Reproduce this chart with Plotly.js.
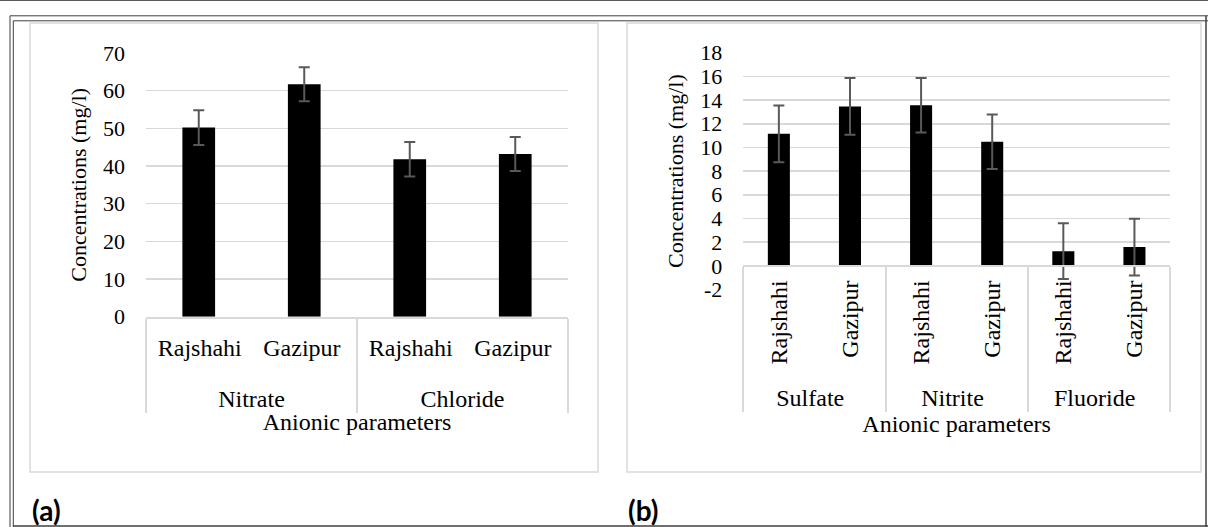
<!DOCTYPE html>
<html>
<head>
<meta charset="utf-8">
<script src="https://cdn.plot.ly/plotly-3.0.1.min.js"></script>
<style>html,body{margin:0;padding:0;background:#fff;}#chart{width:1208px;height:527px;}</style>
</head>
<body>
<div id="chart"></div>
<script>
// ---- data ----
const groupsA = ['Nitrate', 'Nitrate', 'Chloride', 'Chloride'];
const sitesA = ['Rajshahi', 'Gazipur', 'Rajshahi', 'Gazipur'];
const valuesA = [50.2, 61.7, 41.8, 43.2];
const errorsA = [4.6, 4.5, 4.6, 4.5];

const groupsB = ['Sulfate', 'Sulfate', 'Nitrite', 'Nitrite', 'Fluoride', 'Fluoride'];
const sitesB = ['Rajshahi', 'Gazipur', 'Rajshahi', 'Gazipur', 'Rajshahi', 'Gazipur'];
const valuesB = [11.15, 13.46, 13.57, 10.47, 1.24, 1.58];
const errorsB = [2.4, 2.4, 2.3, 2.3, 2.35, 2.4];

const yTickValsA = [0, 10, 20, 30, 40, 50, 60, 70];
const yTickTextA = ['0', '10', '20', '30', '40', '50', '60', '70'];
const yTickValsB = [-2, 0, 2, 4, 6, 8, 10, 12, 14, 16, 18];
const yTickTextB = ['-2', '0', '2', '4', '6', '8', '10', '12', '14', '16', '18'];

const xTitle = 'Anionic parameters';
const yTitle = 'Concentrations (mg/l)';
const panelLabels = ['(a)', '(b)'];

// ---- layout helpers ----
const W = 1208, H = 527;
const fx = p => p / W;
const fy = p => 1 - p / H;
const SERIF = 'Liberation Serif, Times New Roman, serif';
const GRID = '#d9d9d9';

const rangeA = [0, 70];
const rangeB = [-2, 18];
const domYA = [fy(316.7), fy(53)];
const domYB = [fy(289.5), fy(52.7)];
const zeroPosB = domYB[0] + (0 - rangeB[0]) / (rangeB[1] - rangeB[0]) * (domYB[1] - domYB[0]);

const errStyle = (arr) => ({type: 'data', array: arr, visible: true, color: '#595959', thickness: 2, width: 5.5});

const traces = [
  {
    type: 'bar', x: [groupsA, sitesA], y: valuesA, xaxis: 'x', yaxis: 'y',
    marker: {color: '#000000', line: {width: 0}},
    error_y: errStyle(errorsA), hoverinfo: 'skip', showlegend: false
  },
  {
    type: 'bar', x: [groupsB, sitesB], y: valuesB, xaxis: 'x2', yaxis: 'y2',
    marker: {color: '#000000', line: {width: 0}},
    error_y: errStyle(errorsB), hoverinfo: 'skip', showlegend: false
  }
];

const xCommon = {
  type: 'multicategory',
  showline: true, linecolor: GRID, linewidth: 2,
  showgrid: false, zeroline: false, ticks: '',
  showdividers: true, dividercolor: GRID, dividerwidth: 2,
  tickfont: {family: SERIF, size: 24, color: '#000'},
  title: {text: xTitle, font: {family: SERIF, size: 24, color: '#000'}, standoff: 4},
  fixedrange: true
};
const yCommon = {
  showgrid: true, gridcolor: GRID, gridwidth: 1.6,
  zeroline: false, showline: false, ticks: '',
  tickfont: {family: SERIF, size: 22, color: '#000'},
  ticklabelstandoff: 20,
  title: {text: yTitle, font: {family: SERIF, size: 22, color: '#000'}, standoff: 10},
  tickmode: 'array', fixedrange: true
};

const lineCol = '#3f3f3f';
const shapes = [
  // outer frame lines
  {type: 'line', xref: 'paper', yref: 'paper', x0: 0, x1: 1, y0: fy(0.5), y1: fy(0.5), line: {color: '#595959', width: 1}},
  {type: 'line', xref: 'paper', yref: 'paper', x0: fx(10), x1: 1, y0: fy(15.8), y1: fy(15.8), line: {color: lineCol, width: 1}},
  {type: 'line', xref: 'paper', yref: 'paper', x0: fx(13.3), x1: 1, y0: fy(20.8), y1: fy(20.8), line: {color: lineCol, width: 1}},
  {type: 'line', xref: 'paper', yref: 'paper', x0: fx(10), x1: fx(10), y0: fy(15.8), y1: 0, line: {color: lineCol, width: 1}},
  {type: 'line', xref: 'paper', yref: 'paper', x0: fx(13.3), x1: fx(13.3), y0: fy(20.8), y1: 0, line: {color: lineCol, width: 1}},
  {type: 'line', xref: 'paper', yref: 'paper', x0: fx(13.3), x1: 1, y0: fy(526), y1: fy(526), line: {color: lineCol, width: 1.5}},
  {type: 'line', xref: 'paper', yref: 'paper', x0: fx(1206), x1: fx(1206), y0: fy(15.8), y1: 0, line: {color: lineCol, width: 1.5}},
  // chart boxes
  {type: 'rect', xref: 'paper', yref: 'paper', x0: fx(30), x1: fx(598), y0: fy(472), y1: fy(23), line: {color: GRID, width: 1.5}},
  {type: 'rect', xref: 'paper', yref: 'paper', x0: fx(627), x1: fx(1201), y0: fy(472), y1: fy(23), line: {color: GRID, width: 1.5}}
];

const labelFont = {family: 'Lato, Open Sans, sans-serif', size: 28, color: '#000', weight: 'bold'};
const annotations = [
  {text: panelLabels[0], xref: 'paper', yref: 'paper', x: fx(30), y: fy(510), xanchor: 'left', yanchor: 'middle', showarrow: false, font: labelFont},
  {text: panelLabels[1], xref: 'paper', yref: 'paper', x: fx(626), y: fy(510), xanchor: 'left', yanchor: 'middle', showarrow: false, font: labelFont}
];

const layout = {
  width: W, height: H, autosize: false,
  margin: {l: 0, r: 0, t: 0, b: 0, pad: 0},
  paper_bgcolor: '#fff', plot_bgcolor: 'rgba(0,0,0,0)',
  bargap: 0.69,
  showlegend: false,
  xaxis: Object.assign({}, xCommon, {domain: [fx(146), fx(568)], anchor: 'y',
    tickangle: 0.01, ticklabelshift: -41, ticklabelstandoff: 8,
    title: Object.assign({}, xCommon.title, {standoff: 2})}),
  yaxis: Object.assign({}, yCommon, {domain: domYA, range: rangeA, anchor: 'x', tickvals: yTickValsA, ticktext: yTickTextA}),
  xaxis2: Object.assign({}, xCommon, {domain: [fx(743.3), fx(1170)], anchor: 'free', position: zeroPosB,
    tickangle: -90, ticklabelstandoff: 4}),
  yaxis2: Object.assign({}, yCommon, {domain: domYB, range: rangeB, anchor: 'x2', tickvals: yTickValsB, ticktext: yTickTextB}),
  shapes: shapes,
  annotations: annotations
};

Plotly.newPlot('chart', traces, layout, {staticPlot: true, displayModeBar: false});
</script>
</body>
</html>
